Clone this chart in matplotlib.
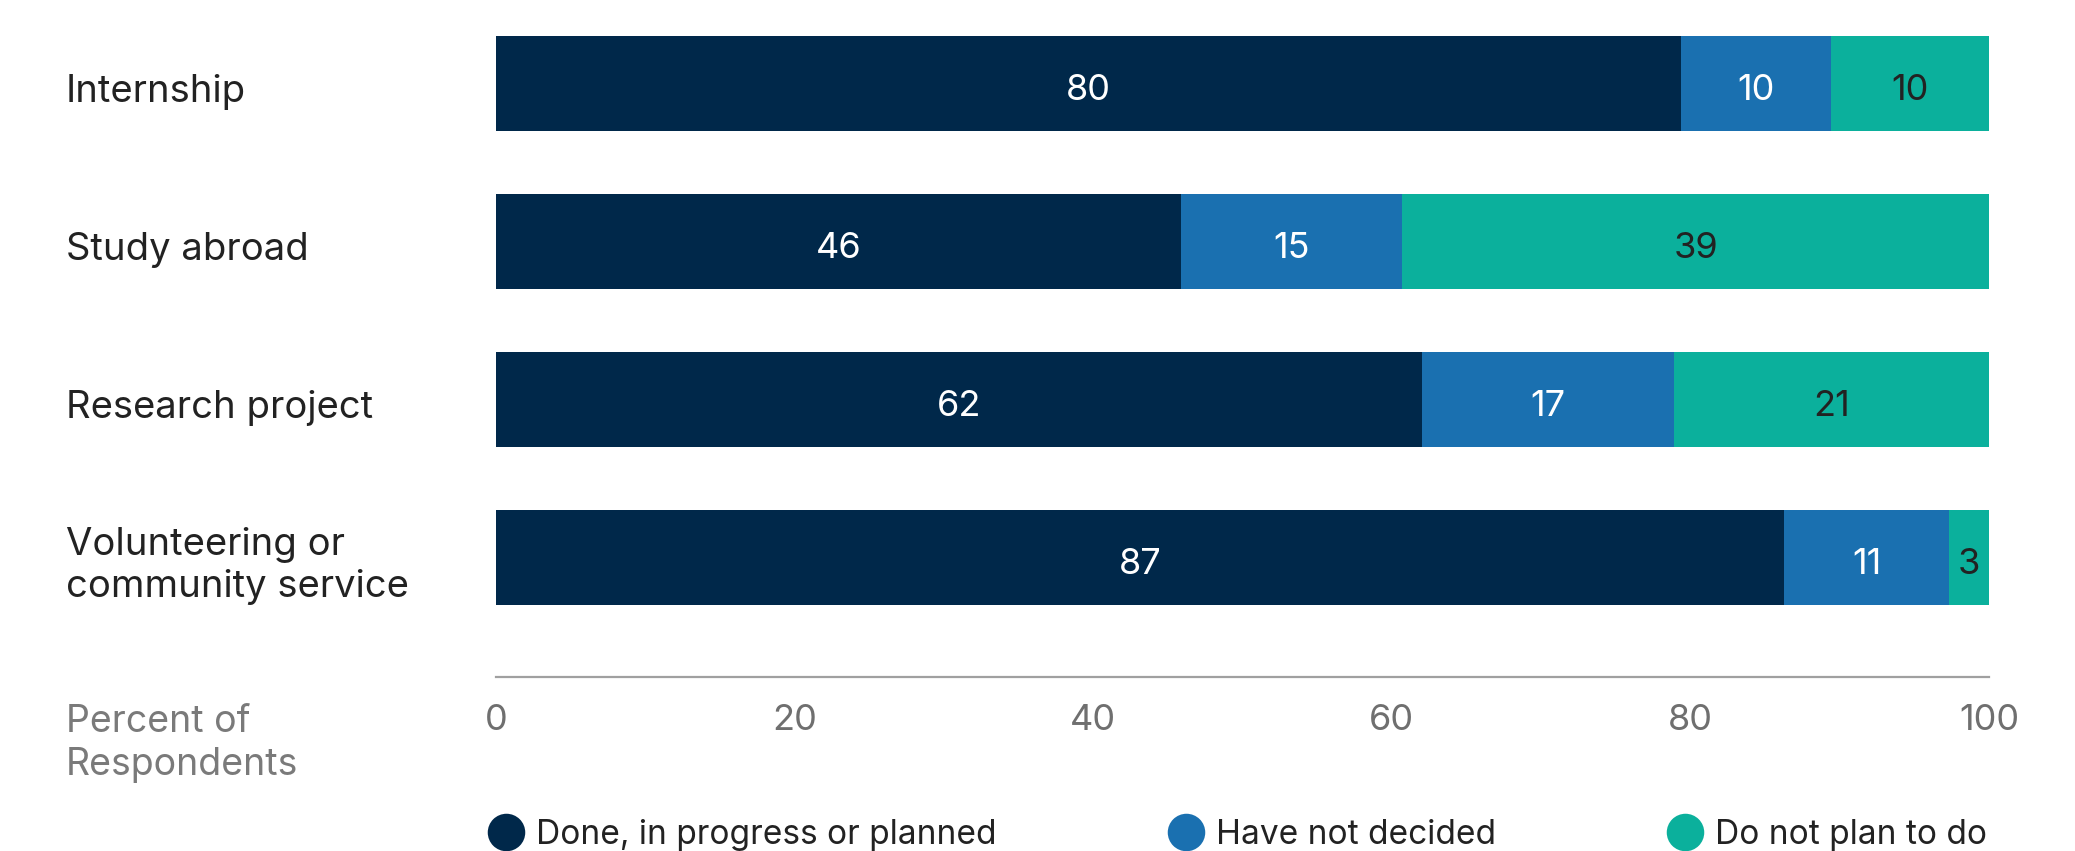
import matplotlib
matplotlib.use("Agg")
import matplotlib.pyplot as plt
from matplotlib.lines import Line2D

plt.rcParams['font.family'] = ['Inter', 'DejaVu Sans']

categories = ["Internship", "Study abroad", "Research project",
              "Volunteering or\ncommunity service"]
series_names = ["Done, in progress or planned", "Have not decided", "Do not plan to do"]
done = [79.4, 45.9, 62.0, 86.3]
undecided = [10.0, 14.8, 16.9, 11.0]
no_plan = [10.6, 39.3, 21.1, 2.7]
# labels as printed on the bars (rounded)
done_lbl = [80, 46, 62, 87]
undecided_lbl = [10, 15, 17, 11]
no_plan_lbl = [10, 39, 21, 3]
xticks = [0, 20, 40, 60, 80, 100]

colors = ["#00284a", "#1a70b0", "#0bb09c"]
text_colors = ["white", "white", "#222222"]

W, H = 2075, 851
fig = plt.figure(figsize=(W / 100, H / 100), dpi=100)
ax = fig.add_axes([496 / W, 0.2039, (1989 - 496) / W, 0.791])

values = [done, undecided, no_plan]
labels = [done_lbl, undecided_lbl, no_plan_lbl]
ypos = list(range(len(categories)))
left = [0.0] * len(categories)
for vals, lbls, col, tcol in zip(values, labels, colors, text_colors):
    bars = ax.barh(ypos, vals, left=left, height=0.6, color=col, linewidth=0)
    for b, l in zip(bars, lbls):
        ax.annotate(str(l), xy=(b.get_x() + b.get_width() / 2, b.get_y() + b.get_height() / 2),
                    xytext=(0, -7), textcoords="offset pixels",
                    ha="center", va="center", color=tcol, fontsize=26)
    left = [a + v for a, v in zip(left, vals)]

ax.set_xlim(0, 100)
ax.set_ylim(3.762, -0.5)
ax.set_yticks([])
ax.set_xticks(xticks)
ax.tick_params(axis="x", length=0, pad=19, labelsize=26, labelcolor="#6f6f6f")
for s in ["top", "right", "left"]:
    ax.spines[s].set_visible(False)
ax.spines["bottom"].set_color("#a0a0a0")
ax.spines["bottom"].set_linewidth(1.6)

# category labels on the left
for y, c in zip(ypos, categories):
    ax.annotate(c, xy=(0, y), xycoords=("figure fraction", "data"),
                xytext=(66, -9), textcoords="offset pixels",
                ha="left", va="center", fontsize=27.5, color="#222222",
                linespacing=1.22)

fig.text(66 / W, 1 - 704 / H, "Percent of\nRespondents", ha="left", va="top",
         fontsize=27, color="#7a7a7a", linespacing=1.25,
         transform=fig.transFigure)

handles = [Line2D([], [], marker="o", linestyle="none", markersize=27,
                  markerfacecolor=c, markeredgewidth=0) for c in colors]
fig.legend(handles, series_names, loc="center left", ncol=3,
           bbox_to_anchor=(476 / W, 16 / H), frameon=False, fontsize=24.1,
           handletextpad=0.4, columnspacing=5.15, labelcolor="#222222",
           borderaxespad=0, handlelength=1.0)

fig.savefig("out.png", dpi=100)
